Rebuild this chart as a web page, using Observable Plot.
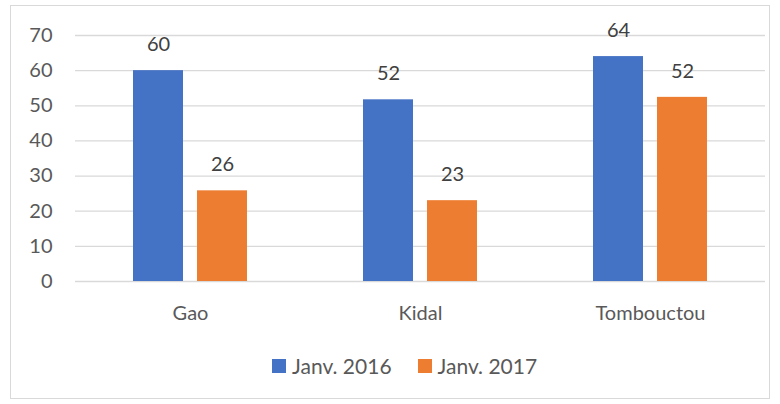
<!DOCTYPE html>
<html>
<head>
<meta charset="utf-8">
<script src="https://cdn.jsdelivr.net/npm/d3@7"></script>
<script src="https://cdn.jsdelivr.net/npm/@observablehq/plot@0.6"></script>
<style>
  html, body { margin: 0; padding: 0; background: #fff; }
  #wrap { position: relative; width: 780px; height: 404px; font-family: Lato, "Liberation Sans", sans-serif; }
  #frame { position: absolute; left: 10px; top: 5px; width: 760px; height: 394px; border: 1px solid #D9D9D9; box-sizing: border-box; }
  #chart { position: absolute; left: 0; top: 0; }
  #legend { position: absolute; left: 272px; top: 353px; display: flex; align-items: center; font-size: 21px; color: #595959; }
  .item { display: flex; align-items: center; margin-right: 26px; }
  .sw { width: 14px; height: 14px; margin-right: 6px; }
</style>
</head>
<body>
<div id="wrap">
  <div id="frame"></div>
  <div id="chart"></div>
  <div id="legend"></div>
</div>
<script>
const regions = ["Gao", "Kidal", "Tombouctou"];
const series = ["Janv. 2016", "Janv. 2017"];
const values2016 = [60, 51.7, 64];
const values2017 = [25.8, 23, 52.4];
const colors = ["#4472C4", "#ED7D31"];
const yTicks = [0, 10, 20, 30, 40, 50, 60, 70];

const data = [];
regions.forEach((r, i) => {
  data.push({region: r, series: series[0], value: values2016[i]});
  data.push({region: r, series: series[1], value: values2017[i]});
});

const chart = Plot.plot({
  width: 780,
  height: 340,
  marginLeft: 75,
  marginRight: 15,
  marginTop: 35,
  marginBottom: 59,
  style: {fontFamily: "Lato, 'Liberation Sans', sans-serif", fontSize: "19px", color: "#595959", background: "transparent"},
  fx: {domain: regions, padding: 0, label: null, axis: null},
  x: {domain: series, paddingInner: 0.215, paddingOuter: 0.877, axis: null},
  y: {domain: [0, 70], axis: null},
  color: {domain: series, range: colors},
  marks: [
    Plot.gridY(yTicks, {stroke: "#D9D9D9", strokeOpacity: 1, strokeWidth: 1.3}),
    Plot.barY(data, {fx: "region", x: "series", y: "value", fill: "series"}),
    Plot.text(data, {fx: "region", x: "series", y: "value", text: d => String(Math.round(d.value)), dy: -26, fill: "#404040", fontSize: 20}),
    Plot.axisY(yTicks, {tickSize: 0, tickPadding: 23, label: null, fill: "#595959", fontSize: 20}),
    Plot.axisFx({anchor: "bottom", tickSize: 0, tickPadding: 24, label: null, fill: "#595959", fontSize: 20})
  ]
});
document.getElementById("chart").appendChild(chart);

const legend = document.getElementById("legend");
series.forEach((s, i) => {
  const item = document.createElement("div");
  item.className = "item";
  const sw = document.createElement("div");
  sw.className = "sw";
  sw.style.background = colors[i];
  const t = document.createElement("span");
  t.textContent = s;
  item.appendChild(sw);
  item.appendChild(t);
  legend.appendChild(item);
});
</script>
</body>
</html>
